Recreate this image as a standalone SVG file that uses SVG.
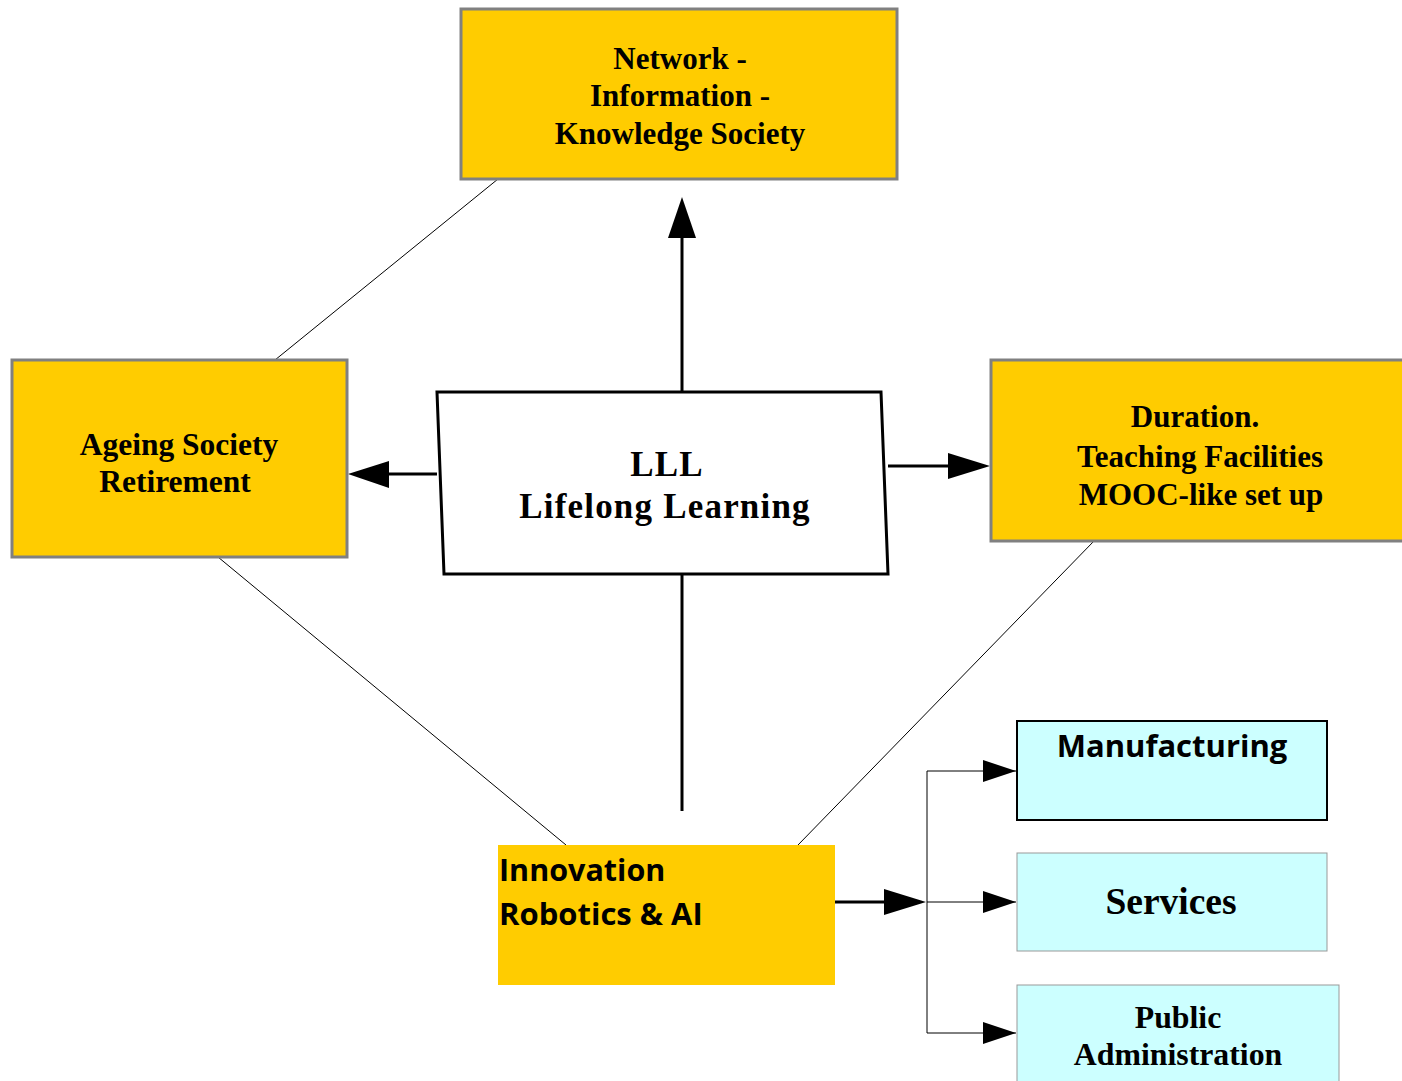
<svg xmlns="http://www.w3.org/2000/svg" width="1402" height="1081" viewBox="0 0 1402 1081">
<defs>
<style>
.y{fill:#FFCC00;stroke:#808080;stroke-width:3}
.c{fill:#CCFFFF}
.t{font-family:"Liberation Serif",serif;font-weight:bold;fill:#000;text-anchor:middle}
.s{font-family:"Open Sans","Liberation Sans",sans-serif;font-weight:bold;fill:#000}
.thin{stroke:#000;stroke-width:1;fill:none}
.thick{stroke:#000;stroke-width:3;fill:none}
</style>
</defs>
<rect width="1402" height="1081" fill="#fff"/>
<g id="connectors">
<line class="thin" x1="498" y1="179" x2="275" y2="360"/>
<line class="thin" x1="218" y1="557" x2="566" y2="845"/>
<line class="thin" x1="1094" y1="541" x2="798" y2="845"/>
<line class="thick" x1="682" y1="391" x2="682" y2="232"/>
<polygon points="682,197 668,238 696,238" fill="#000"/>
<line class="thick" x1="437" y1="474" x2="385" y2="474"/>
<polygon points="348,474 389,461 389,488" fill="#000"/>
<line class="thick" x1="888" y1="466" x2="952" y2="466"/>
<polygon points="990,466 948,453 948,479" fill="#000"/>
<line class="thick" x1="682" y1="575" x2="682" y2="811"/>
<line class="thick" x1="835" y1="902" x2="888" y2="902"/>
<polygon points="926,902 884,889 884,915" fill="#000"/>
<polyline class="thin" points="1016,771 927,771 927,1033 1016,1033"/>
<line class="thin" x1="927" y1="902" x2="1016" y2="902"/>
<polygon points="1016,771 983,760 983,782" fill="#000"/>
<polygon points="1016,902 983,891 983,913" fill="#000"/>
<polygon points="1016,1033 983,1022 983,1044" fill="#000"/>
</g>
<g id="network">
<rect class="y" x="461" y="9" width="436" height="170"/>
<text class="t" font-size="31" x="680" y="69">Network -</text>
<text class="t" font-size="31" x="680" y="106">Information -</text>
<text class="t" font-size="31" x="680" y="144">Knowledge Society</text>
</g>
<g id="ageing">
<rect class="y" x="12" y="360" width="335" height="197"/>
<text class="t" font-size="31.5" x="179" y="455">Ageing Society</text>
<text class="t" font-size="31.5" x="175" y="492">Retirement</text>
</g>
<g id="duration">
<rect class="y" x="991" y="360" width="414" height="181"/>
<text class="t" font-size="31" x="1195" y="427">Duration.</text>
<text class="t" font-size="31" x="1200" y="467">Teaching Facilities</text>
<text class="t" font-size="31" x="1201" y="505">MOOC-like set up</text>
</g>
<g id="lll">
<polygon points="437,392 881,392 888,574 444,574" fill="#fff" stroke="#000" stroke-width="3"/>
<text class="t" font-size="35" x="667" y="476" letter-spacing="1.2">LLL</text>
<text class="t" font-size="35" x="665" y="518" letter-spacing="1.2">Lifelong Learning</text>
</g>
<g id="innovation">
<rect x="498" y="845" width="337" height="140" fill="#FFCC00"/>
<text class="s" font-size="30.5" x="499" y="881">Innovation</text>
<text class="s" font-size="31" x="499" y="925">Robotics &amp; AI</text>
</g>
<g id="manufacturing">
<rect class="c" x="1017" y="721" width="310" height="99" stroke="#000" stroke-width="2"/>
<text class="s" font-size="31" x="1172" y="757" text-anchor="middle">Manufacturing</text>
</g>
<g id="services">
<rect class="c" x="1017" y="853" width="310" height="98" stroke="#999" stroke-width="1"/>
<text class="t" font-size="37.5" x="1171" y="914">Services</text>
</g>
<g id="public">
<rect class="c" x="1017" y="985" width="322" height="100" stroke="#999" stroke-width="1"/>
<text class="t" font-size="31.8" x="1178" y="1028">Public</text>
<text class="t" font-size="31.8" x="1178" y="1065">Administration</text>
</g>
</svg>
